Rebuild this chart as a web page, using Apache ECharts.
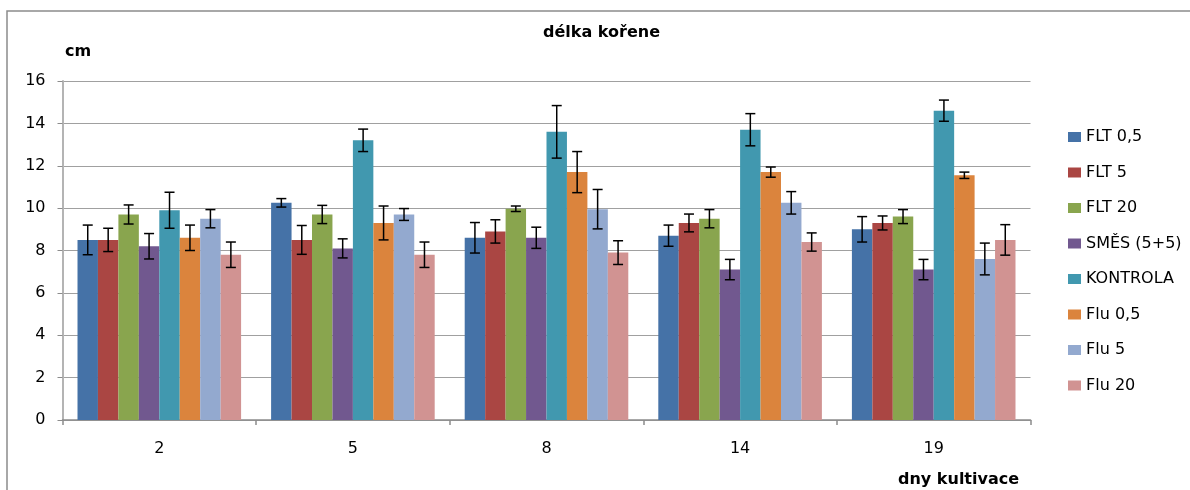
<!DOCTYPE html>
<html>
<head>
<meta charset="utf-8">
<script src="https://cdn.jsdelivr.net/npm/echarts@6/dist/echarts.min.js"></script>
<style>
  html, body { margin: 0; padding: 0; background: #fff; }
  #chart { width: 1190px; height: 490px; }
</style>
</head>
<body>
<div id="chart"></div>
<script>
// dny kultivace
const days = ['2', '5', '8', '14', '19'];

const seriesNames = ['FLT 0,5', 'FLT 5', 'FLT 20', 'SMĚS (5+5)', 'KONTROLA', 'Flu 0,5', 'Flu 5', 'Flu 20'];
const colors = ['#4572A7', '#AA4643', '#89A54E', '#71588F', '#4198AF', '#DB843D', '#93A9CF', '#D19392'];

// průměrné délky (cm)
const flt05 = [8.5, 10.25, 8.6, 8.7, 9.0];
const flt5 = [8.5, 8.5, 8.9, 9.3, 9.3];
const flt20 = [9.7, 9.7, 9.97, 9.5, 9.6];
const smes = [8.2, 8.1, 8.6, 7.1, 7.1];
const kontrola = [9.9, 13.2, 13.6, 13.7, 14.6];
const flu05 = [8.6, 9.3, 11.7, 11.7, 11.55];
const flu5 = [9.5, 9.7, 9.95, 10.25, 7.6];
const flu20 = [7.8, 7.8, 7.9, 8.4, 8.5];

// chybové úsečky (±)
const errFlt05 = [0.7, 0.2, 0.72, 0.5, 0.6];
const errFlt5 = [0.55, 0.68, 0.55, 0.42, 0.33];
const errFlt20 = [0.45, 0.43, 0.13, 0.43, 0.33];
const errSmes = [0.6, 0.45, 0.5, 0.48, 0.48];
const errKontrola = [0.85, 0.53, 1.24, 0.76, 0.5];
const errFlu05 = [0.6, 0.8, 0.97, 0.24, 0.15];
const errFlu5 = [0.43, 0.28, 0.93, 0.53, 0.75];
const errFlu20 = [0.6, 0.6, 0.56, 0.43, 0.72];

const yTicks = { min: 0, max: 16, interval: 2 };

const values = [flt05, flt5, flt20, smes, kontrola, flu05, flu5, flu20];
const errors = [errFlt05, errFlt5, errFlt20, errSmes, errKontrola, errFlu05, errFlu5, errFlu20];

const FONT = 'DejaVu Sans';
const categoryGap = 0.155;
const nSeries = seriesNames.length;

const barSeries = seriesNames.map((name, i) => ({
  name: name,
  type: 'bar',
  data: values[i],
  barGap: 0,
  barCategoryGap: (categoryGap * 100) + '%',
  itemStyle: { color: colors[i] }
}));

// error bars drawn on top of each bar
const errorSeries = seriesNames.map((name, i) => ({
  type: 'custom',
  name: name,
  z: 10,
  silent: true,
  data: values[i].map((v, j) => [j, v - errors[i][j], v + errors[i][j]]),
  renderItem: function (params, api) {
    const cat = api.value(0);
    const lo = api.coord([cat, api.value(1)]);
    const hi = api.coord([cat, api.value(2)]);
    const band = api.size([1, 0])[0];
    const groupW = band * (1 - categoryGap);
    const barW = groupW / nSeries;
    const x = lo[0] - groupW / 2 + (i + 0.5) * barW;
    const cap = 5;
    const style = { stroke: '#000', lineWidth: 1.5 };
    return {
      type: 'group',
      children: [
        { type: 'line', shape: { x1: x, y1: lo[1], x2: x, y2: hi[1] }, style: style },
        { type: 'line', shape: { x1: x - cap, y1: lo[1], x2: x + cap, y2: lo[1] }, style: style },
        { type: 'line', shape: { x1: x - cap, y1: hi[1], x2: x + cap, y2: hi[1] }, style: style }
      ]
    };
  }
}));

const chart = echarts.init(document.getElementById('chart'));
chart.setOption({
  animation: false,
  textStyle: { fontFamily: FONT },
  graphic: [
    {
      type: 'rect',
      shape: { x: 7, y: 11, width: 1200, height: 500 },
      style: { fill: 'none', stroke: '#8c8c8c', lineWidth: 1.5 },
      z: -10
    },
    {
      type: 'text', left: 543, top: 25,
      style: { text: 'délka kořene', font: 'bold 16px "DejaVu Sans"', fill: '#000' }
    },
    {
      type: 'text', left: 65, top: 44,
      style: { text: 'cm', font: 'bold 16px "DejaVu Sans"', fill: '#000' }
    },
    {
      type: 'text', left: 898, top: 472,
      style: { text: 'dny kultivace', font: 'bold 16px "DejaVu Sans"', fill: '#000' }
    }
  ],
  legend: {
    orient: 'vertical',
    left: 1063,
    top: 123,
    itemWidth: 13,
    itemHeight: 10,
    itemGap: 17.5,
    icon: 'rect',
    data: seriesNames,
    textStyle: { fontSize: 16, color: '#000', lineHeight: 18, fontFamily: FONT }
  },
  grid: { left: 62.5, right: 159.5, top: 81, bottom: 70 },
  xAxis: {
    type: 'category',
    data: days,
    axisLine: { lineStyle: { color: '#8c8c8c', width: 1.5 } },
    axisTick: { show: true, length: 5, lineStyle: { color: '#8c8c8c', width: 1.5 } },
    axisLabel: { fontSize: 16, color: '#000', margin: 21, fontFamily: FONT }
  },
  yAxis: {
    type: 'value',
    min: yTicks.min,
    max: yTicks.max,
    interval: yTicks.interval,
    axisLine: { show: true, lineStyle: { color: '#b4b4b4', width: 2 } },
    axisTick: { show: true, length: 5, lineStyle: { color: '#8c8c8c' } },
    axisLabel: { fontSize: 16, color: '#000', margin: 17, fontFamily: FONT },
    splitLine: { lineStyle: { color: '#a0a0a0', width: 1.2 } }
  },
  series: barSeries.concat(errorSeries)
});
</script>
</body>
</html>
